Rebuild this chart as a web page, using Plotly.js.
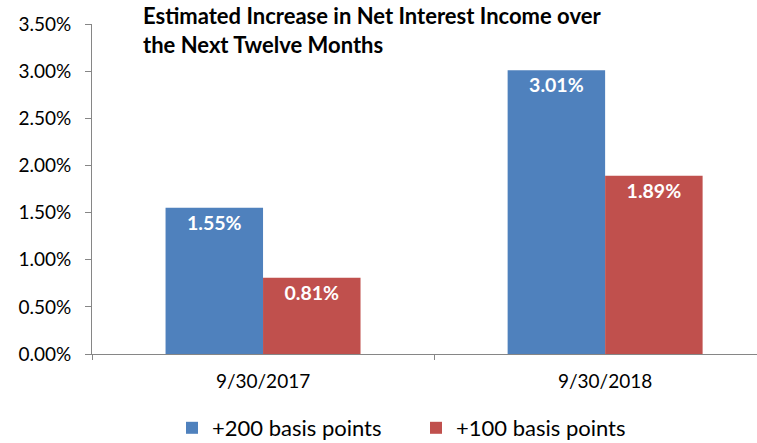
<!DOCTYPE html>
<html>
<head>
<meta charset="utf-8">
<script src="https://cdn.plot.ly/plotly-3.0.1.min.js"></script>
<style>
  html, body { margin: 0; padding: 0; background: #fff; }
  #chart { width: 757px; height: 443px; }
</style>
</head>
<body>
<div id="chart"></div>
<script>
const categories = ["9/30/2017", "9/30/2018"];
const bp200 = [0.0155, 0.0301];
const bp100 = [0.0081, 0.0189];
const seriesNames = ["+200 basis points", "+100 basis points"];
const chartTitle = "Estimated Increase in Net Interest Income over<br>the Next Twelve Months";

const font = "Lato, 'Noto Sans', sans-serif";
const axisGray = "#868686";

function barTrace(name, values, color) {
  return {
    type: "bar",
    name: name,
    x: categories,
    y: values,
    marker: { color: color, line: { width: 0 } },
    texttemplate: "%{y:.2%}",
    textposition: "inside",
    insidetextanchor: "end",
    textangle: 0,
    textfont: { family: font, size: 19.5, color: "#fff", weight: "bold" },
    hoverinfo: "x+y",
  };
}

const traces = [
  barTrace(seriesNames[0], bp200, "#4F81BD"),
  barTrace(seriesNames[1], bp100, "#C0504D"),
];

const layout = {
  width: 757,
  height: 443,
  margin: { l: 92, r: 0, t: 24, b: 89, autoexpand: false },
  paper_bgcolor: "#fff",
  plot_bgcolor: "#fff",
  font: { family: font, size: 19, color: "#000" },
  barmode: "group",
  bargap: 0.43,
  bargroupgap: 0,
  title: {
    text: chartTitle,
    font: { family: font, size: 22, color: "#000", weight: "bold" },
    xref: "container",
    yref: "container",
    x: 143 / 757,
    y: 1 - 24 / 443,
    xanchor: "left",
    yanchor: "top",
  },
  xaxis: {
    type: "category",
    range: [-0.5, 1.444],
    showline: true,
    linecolor: axisGray,
    linewidth: 1,
    ticks: "outside",
    tickson: "boundaries",
    ticklen: 5,
    tickcolor: axisGray,
    ticklabelstandoff: 10,
    showgrid: false,
    automargin: false,
    tickfont: { family: font, size: 19, color: "#000" },
  },
  yaxis: {
    range: [0, 0.035],
    dtick: 0.005,
    tickformat: ".2%",
    showline: true,
    linecolor: axisGray,
    linewidth: 1,
    ticks: "outside",
    ticklen: 6,
    tickcolor: axisGray,
    ticklabelstandoff: 10,
    showgrid: false,
    zeroline: false,
    automargin: false,
    tickfont: { family: font, size: 19, color: "#000" },
  },
  showlegend: true,
  legend: {
    orientation: "h",
    x: 172 / 757,
    xref: "container",
    xanchor: "left",
    y: 1 - 428 / 443,
    yref: "container",
    yanchor: "middle",
    font: { family: font, size: 22, color: "#000" },
    entrywidth: 199,
    traceorder: "normal",
  },
};

Plotly.newPlot("chart", traces, layout, { displayModeBar: false, staticPlot: true });
</script>
</body>
</html>
